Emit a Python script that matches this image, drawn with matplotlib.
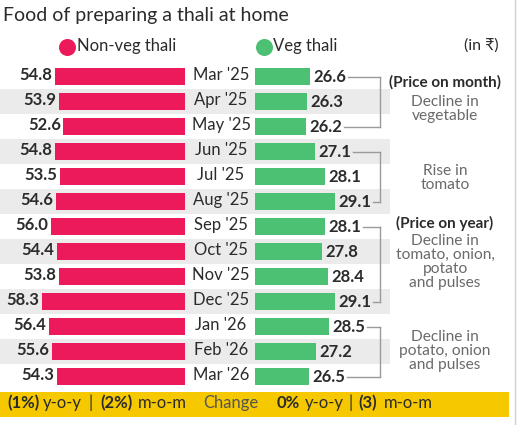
import matplotlib
matplotlib.use("Agg")
import matplotlib.pyplot as plt
from matplotlib.patches import Rectangle

plt.rcParams['font.family'] = ['Lato', 'DejaVu Sans']

# data
months = ["Mar '25", "Apr '25", "May '25", "Jun '25", "Jul '25", "Aug '25", "Sep '25",
          "Oct '25", "Nov '25", "Dec '25", "Jan '26", "Feb '26", "Mar '26"]
nonveg = [54.8, 53.9, 52.6, 54.8, 53.5, 54.6, 56.0, 54.4, 53.8, 58.3, 56.4, 55.6, 54.3]
veg = [26.6, 26.3, 26.2, 27.1, 28.1, 29.1, 28.1, 27.8, 28.4, 29.1, 28.5, 27.2, 26.5]

# bracket groups (first row, last row) and notes beside them
groups = [(0, 2), (3, 5), (6, 9), (10, 12)]
notes = [("(Price on month)", "Decline in\nvegetable"),
         (None, "Rise in\ntomato"),
         ("(Price on year)", "Decline in\ntomato, onion,\npotato\nand pulses"),
         (None, "Decline in\npotato, onion\nand pulses")]

RED = '#ec1a5a'
GREEN = '#4cc173'
DARK = '#2b2b2b'
GREY_TXT = '#6a6a6a'

W, H = 518, 425
fig = plt.figure(figsize=(W / 100, H / 100), dpi=100)
fig.patch.set_facecolor('white')

n = len(months)
top_px, bot_px = 63.5, 388.5
ax_b = [1 - bot_px / H, (bot_px - top_px) / H]

# background bands
bg = fig.add_axes([0, ax_b[0], 390 / W, ax_b[1]])
bg.set_xlim(0, 390)
bg.set_ylim(n - 0.5, -0.5)
bg.axis('off')
for i in range(1, n, 2):
    bg.axhspan(i - 0.5, i + 0.5, color='#ebebeb', lw=0)

# non-veg bars (left, mirrored)
axr = fig.add_axes([0, ax_b[0], 185 / W, ax_b[1]])
axr.set_facecolor('none')
axr.barh(range(n), nonveg, height=0.68, color=RED)
axr.set_xlim(69.3, 20.6)
axr.set_ylim(n - 0.5, -0.5)
axr.axis('off')
for i, v in enumerate(nonveg):
    axr.text(v + 0.7, i - 0.03, f"{v:.1f}", ha='right', va='center', fontsize=12,
             fontweight='bold', color=DARK)

# veg bars (right)
axg = fig.add_axes([255 / W, ax_b[0], 135 / W, ax_b[1]])
axg.set_facecolor('none')
axg.barh(range(n), veg, height=0.68, color=GREEN)
axg.set_xlim(21.1, 34.6)
axg.set_ylim(n - 0.5, -0.5)
axg.axis('off')
vlabels = []
for i, v in enumerate(veg):
    t = axg.text(v + 0.3, i + 0.03, f"{v:.1f}", ha='left', va='center', fontsize=12,
                 fontweight='bold', color=DARK)
    vlabels.append(t)

# month labels
for i, m in enumerate(months):
    bg.text(221, i - 0.03, m, ha='center', va='center', fontsize=12, color=DARK)

# brackets
fig.canvas.draw()
rend = fig.canvas.get_renderer()
inv = axg.transData.inverted()
bx = 33.6
for a, b in groups:
    for r in (a, b):
        ext = vlabels[r].get_window_extent(rend)
        x0 = inv.transform((ext.x1 + 2, 0))[0]
        axg.plot([x0, bx], [r + 0.04, r + 0.04], color='#9a9a9a', lw=1, clip_on=False)
    axg.plot([bx, bx], [a + 0.04, b + 0.04], color='#9a9a9a', lw=1, clip_on=False)

# overlay canvas in pixel coords
cv = fig.add_axes([0, 0, 1, 1])
cv.set_xlim(0, W)
cv.set_ylim(H, 0)
cv.axis('off')
cv.set_facecolor('none')

cv.text(3, 15, "Food of preparing a thali at home", fontsize=14, color=DARK,
        ha='left', va='center')

cv.scatter([67], [47], s=150, color=RED, lw=0)
cv.text(77, 46, "Non-veg thali", fontsize=12, color=DARK, va='center')
cv.scatter([264], [47], s=150, color=GREEN, lw=0)
cv.text(273, 46, "Veg thali", fontsize=12, color=DARK, va='center')
cv.text(499, 46, "(in ₹)", fontsize=11.5, color=DARK, va='center', ha='right')

# notes
note_y = [(82, 109), (None, 178), (223, 262), (None, 351)]
for (head, body), (hy, by) in zip(notes, note_y):
    if head:
        cv.text(445, hy, head, fontsize=11, fontweight='bold', color=DARK,
                ha='center', va='center')
    cv.text(445, by, body, fontsize=11.2, color=GREY_TXT, ha='center',
            va='center', linespacing=1.0)

# yellow change band
cv.add_patch(Rectangle((0, 392), 509, 25, color='#f5c800', lw=0))
pieces = [(7, "(1%)", 'bold', DARK), (43, "y-o-y", 'normal', DARK), (89, "|", 'normal', DARK),
          (100, "(2%)", 'bold', DARK), (138, "m-o-m", 'normal', DARK),
          (203, "Change", 'normal', '#555555'), (277, "0%", 'bold', DARK),
          (305, "y-o-y", 'normal', DARK), (349, "|", 'normal', DARK),
          (358, "(3)", 'bold', DARK), (384, "m-o-m", 'normal', DARK)]
for x, s, wt, c in pieces:
    cv.text(x, 403, s, fontsize=12, fontweight=wt, color=c, ha='left', va='center')

cv.plot([515, 515], [0, H], color='#d0d0d0', lw=1)

fig.savefig('out.png', dpi=100)
